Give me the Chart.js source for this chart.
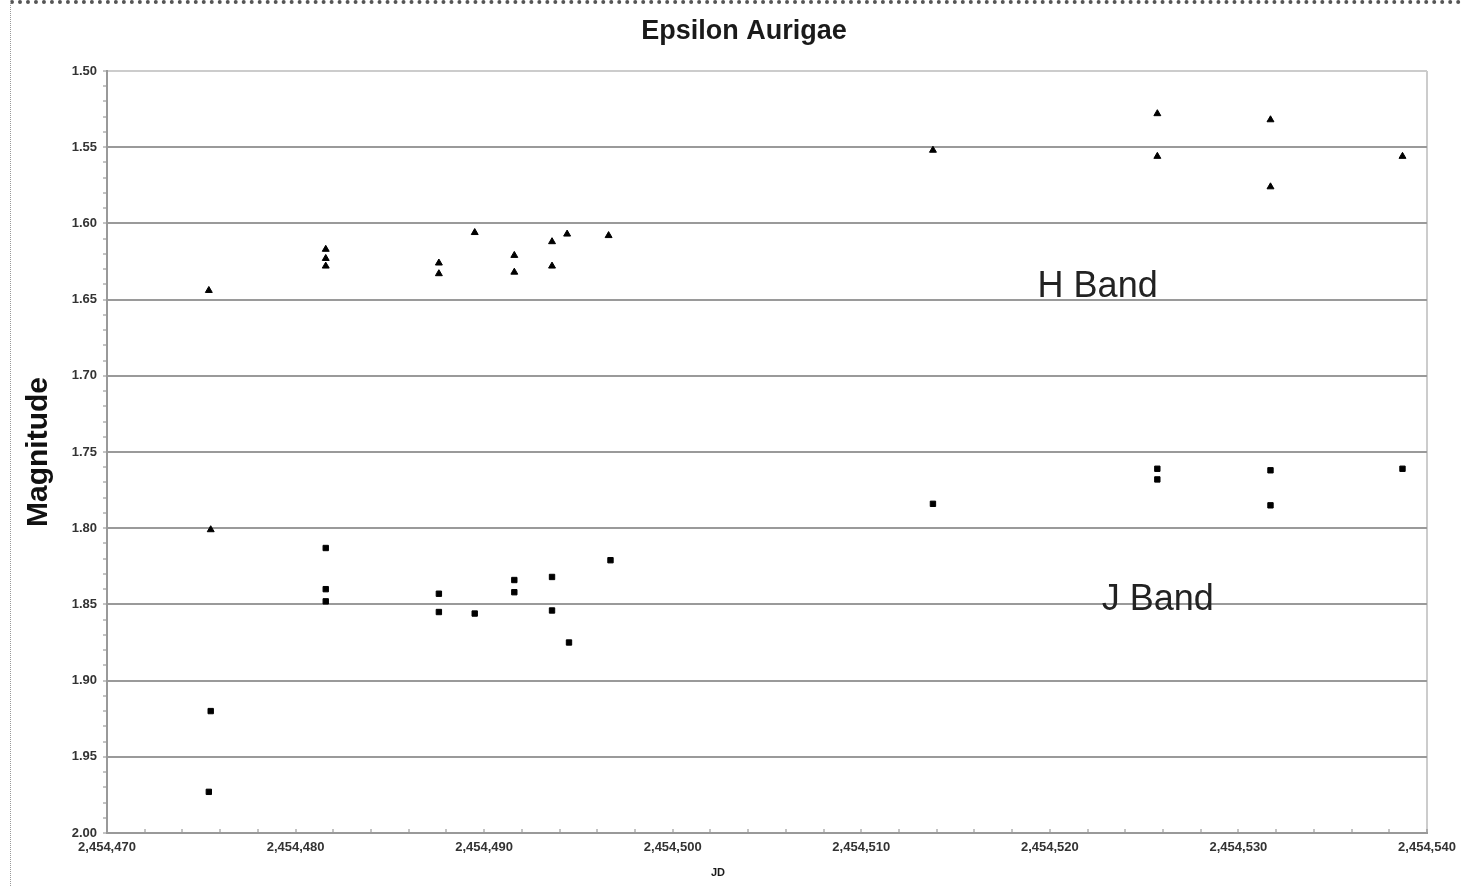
<!DOCTYPE html>
<html>
<head>
<meta charset="utf-8">
<title>Epsilon Aurigae</title>
<script src="https://cdn.jsdelivr.net/npm/chart.js@4/dist/chart.umd.min.js"></script>
<style>
    html, body { margin: 0; padding: 0; background: #fff; }
    #wrap { position: relative; width: 1481px; height: 886px; }
    #frame {
        position: absolute; left: 10px; top: 0; width: 1452px; height: 886px;
        border-top: 4px dotted #555; border-left: 1px dotted #999;
        box-sizing: border-box; pointer-events: none;
    }
</style>
</head>
<body>
<div id="wrap">
    <canvas id="lightCurve" width="1481" height="886"></canvas>
    <div id="frame"></div>
</div>
<script>
// H band photometry (triangles)
const hJD = [2454475.4, 2454475.5, 2454481.6, 2454481.6, 2454481.6, 2454487.6, 2454487.6,
    2454489.5, 2454491.6, 2454491.6, 2454493.6, 2454493.6, 2454494.4, 2454496.6,
    2454513.8, 2454525.7, 2454525.7, 2454531.7, 2454531.7, 2454538.7];
const hMag = [1.644, 1.801, 1.617, 1.623, 1.628, 1.626, 1.633,
    1.606, 1.621, 1.632, 1.612, 1.628, 1.607, 1.608,
    1.552, 1.528, 1.556, 1.532, 1.576, 1.556];

// J band photometry (squares)
const jJD = [2454475.5, 2454475.4, 2454481.6, 2454481.6, 2454481.6, 2454487.6, 2454487.6,
    2454489.5, 2454491.6, 2454491.6, 2454493.6, 2454493.6, 2454494.5, 2454496.7,
    2454513.8, 2454525.7, 2454525.7, 2454531.7, 2454531.7, 2454538.7];
const jMag = [1.920, 1.973, 1.813, 1.840, 1.848, 1.843, 1.855,
    1.856, 1.834, 1.842, 1.832, 1.854, 1.875, 1.821,
    1.784, 1.761, 1.768, 1.762, 1.785, 1.761];

const jdMin = 2454470;
const jdMax = 2454540;
const magMin = 1.50;
const magMax = 2.00;

const toPoints = (xs, ys) => xs.map((x, i) => ({ x: x, y: ys[i] }));

Chart.defaults.font.family = "'Liberation Sans', Arial, sans-serif";

// title, x axis name and the band captions
const chartText = {
    id: "chartText",
    afterDatasetsDraw(chart) {
        const ctx = chart.ctx;
        const xs = chart.scales.x;
        const ys = chart.scales.y;
        ctx.save();
        ctx.fillStyle = "#1a1a1a";
        ctx.textAlign = "center";
        ctx.textBaseline = "middle";
        ctx.font = "bold 27px 'Liberation Sans', Arial, sans-serif";
        ctx.fillText("Epsilon Aurigae", 744, 32);
        ctx.font = "bold 11px 'Liberation Sans', Arial, sans-serif";
        ctx.fillText("JD", 718, 873);

        ctx.fillStyle = "#222";
        ctx.textAlign = "left";
        ctx.textBaseline = "alphabetic";
        ctx.font = "36px 'Liberation Sans', Arial, sans-serif";
        ctx.fillText("H Band", xs.getPixelForValue(2454519.35), ys.getPixelForValue(1.648));
        ctx.fillText("J Band", xs.getPixelForValue(2454522.75), ys.getPixelForValue(1.854));
        ctx.restore();
    }
};

const isMajorMag = v => Math.round(v * 100) % 5 === 0;

new Chart(document.getElementById("lightCurve"), {
    type: "scatter",
    data: {
        datasets: [{
            label: "H Band",
            data: toPoints(hJD, hMag),
            pointStyle: "triangle",
            pointRadius: 4,
            backgroundColor: "#000",
            borderColor: "#000",
            borderWidth: 1
        }, {
            label: "J Band",
            data: toPoints(jJD, jMag),
            pointStyle: "rect",
            pointRadius: 3.8,
            backgroundColor: "#000",
            borderColor: "#000",
            borderWidth: 1
        }]
    },
    options: {
        responsive: false,
        animation: false,
        layout: { padding: { top: 71, right: 54, bottom: 0, left: 0 } },
        plugins: {
            legend: { display: false },
            title: { display: false },
            tooltip: { enabled: false }
        },
        scales: {
            x: {
                type: "linear",
                min: jdMin,
                max: jdMax,
                afterFit: (scale) => { scale.height = 53; },
                ticks: {
                    stepSize: 2,
                    autoSkip: false,
                    maxRotation: 0,
                    padding: 11,
                    color: "#333",
                    font: { size: 13, weight: "bold" },
                    callback: (v) => v % 10 === 0 ? v.toLocaleString("en-US") : ""
                },
                grid: {
                    color: (ctx) => ctx.tick && ctx.tick.value === jdMax ? "#ccc" : "transparent",
                    lineWidth: 2,
                    tickLength: -4,
                    tickColor: "#888",
                    tickWidth: 1
                },
                border: { color: "#999", width: 2 }
            },
            y: {
                reverse: true,
                min: magMin,
                max: magMax,
                afterFit: (scale) => { scale.width = 107; },
                ticks: {
                    stepSize: 0.01,
                    autoSkip: false,
                    padding: 6,
                    color: "#333",
                    font: { size: 13, weight: "bold" },
                    callback: (v) => isMajorMag(v) ? v.toFixed(2) : ""
                },
                grid: {
                    color: (ctx) => {
                        if (!ctx.tick || !isMajorMag(ctx.tick.value)) return "transparent";
                        return Math.abs(ctx.tick.value - magMin) < 1e-6 ? "#ccc" : "#9a9a9a";
                    },
                    lineWidth: 2,
                    tickLength: 4,
                    tickColor: "#888",
                    tickWidth: 1
                },
                border: { color: "#999", width: 2 },
                title: {
                    display: true,
                    text: "Magnitude",
                    color: "#111",
                    font: { size: 30, weight: "bold" },
                    padding: { top: 21, bottom: 0 }
                }
            }
        }
    },
    plugins: [chartText]
});
</script>
</body>
</html>
